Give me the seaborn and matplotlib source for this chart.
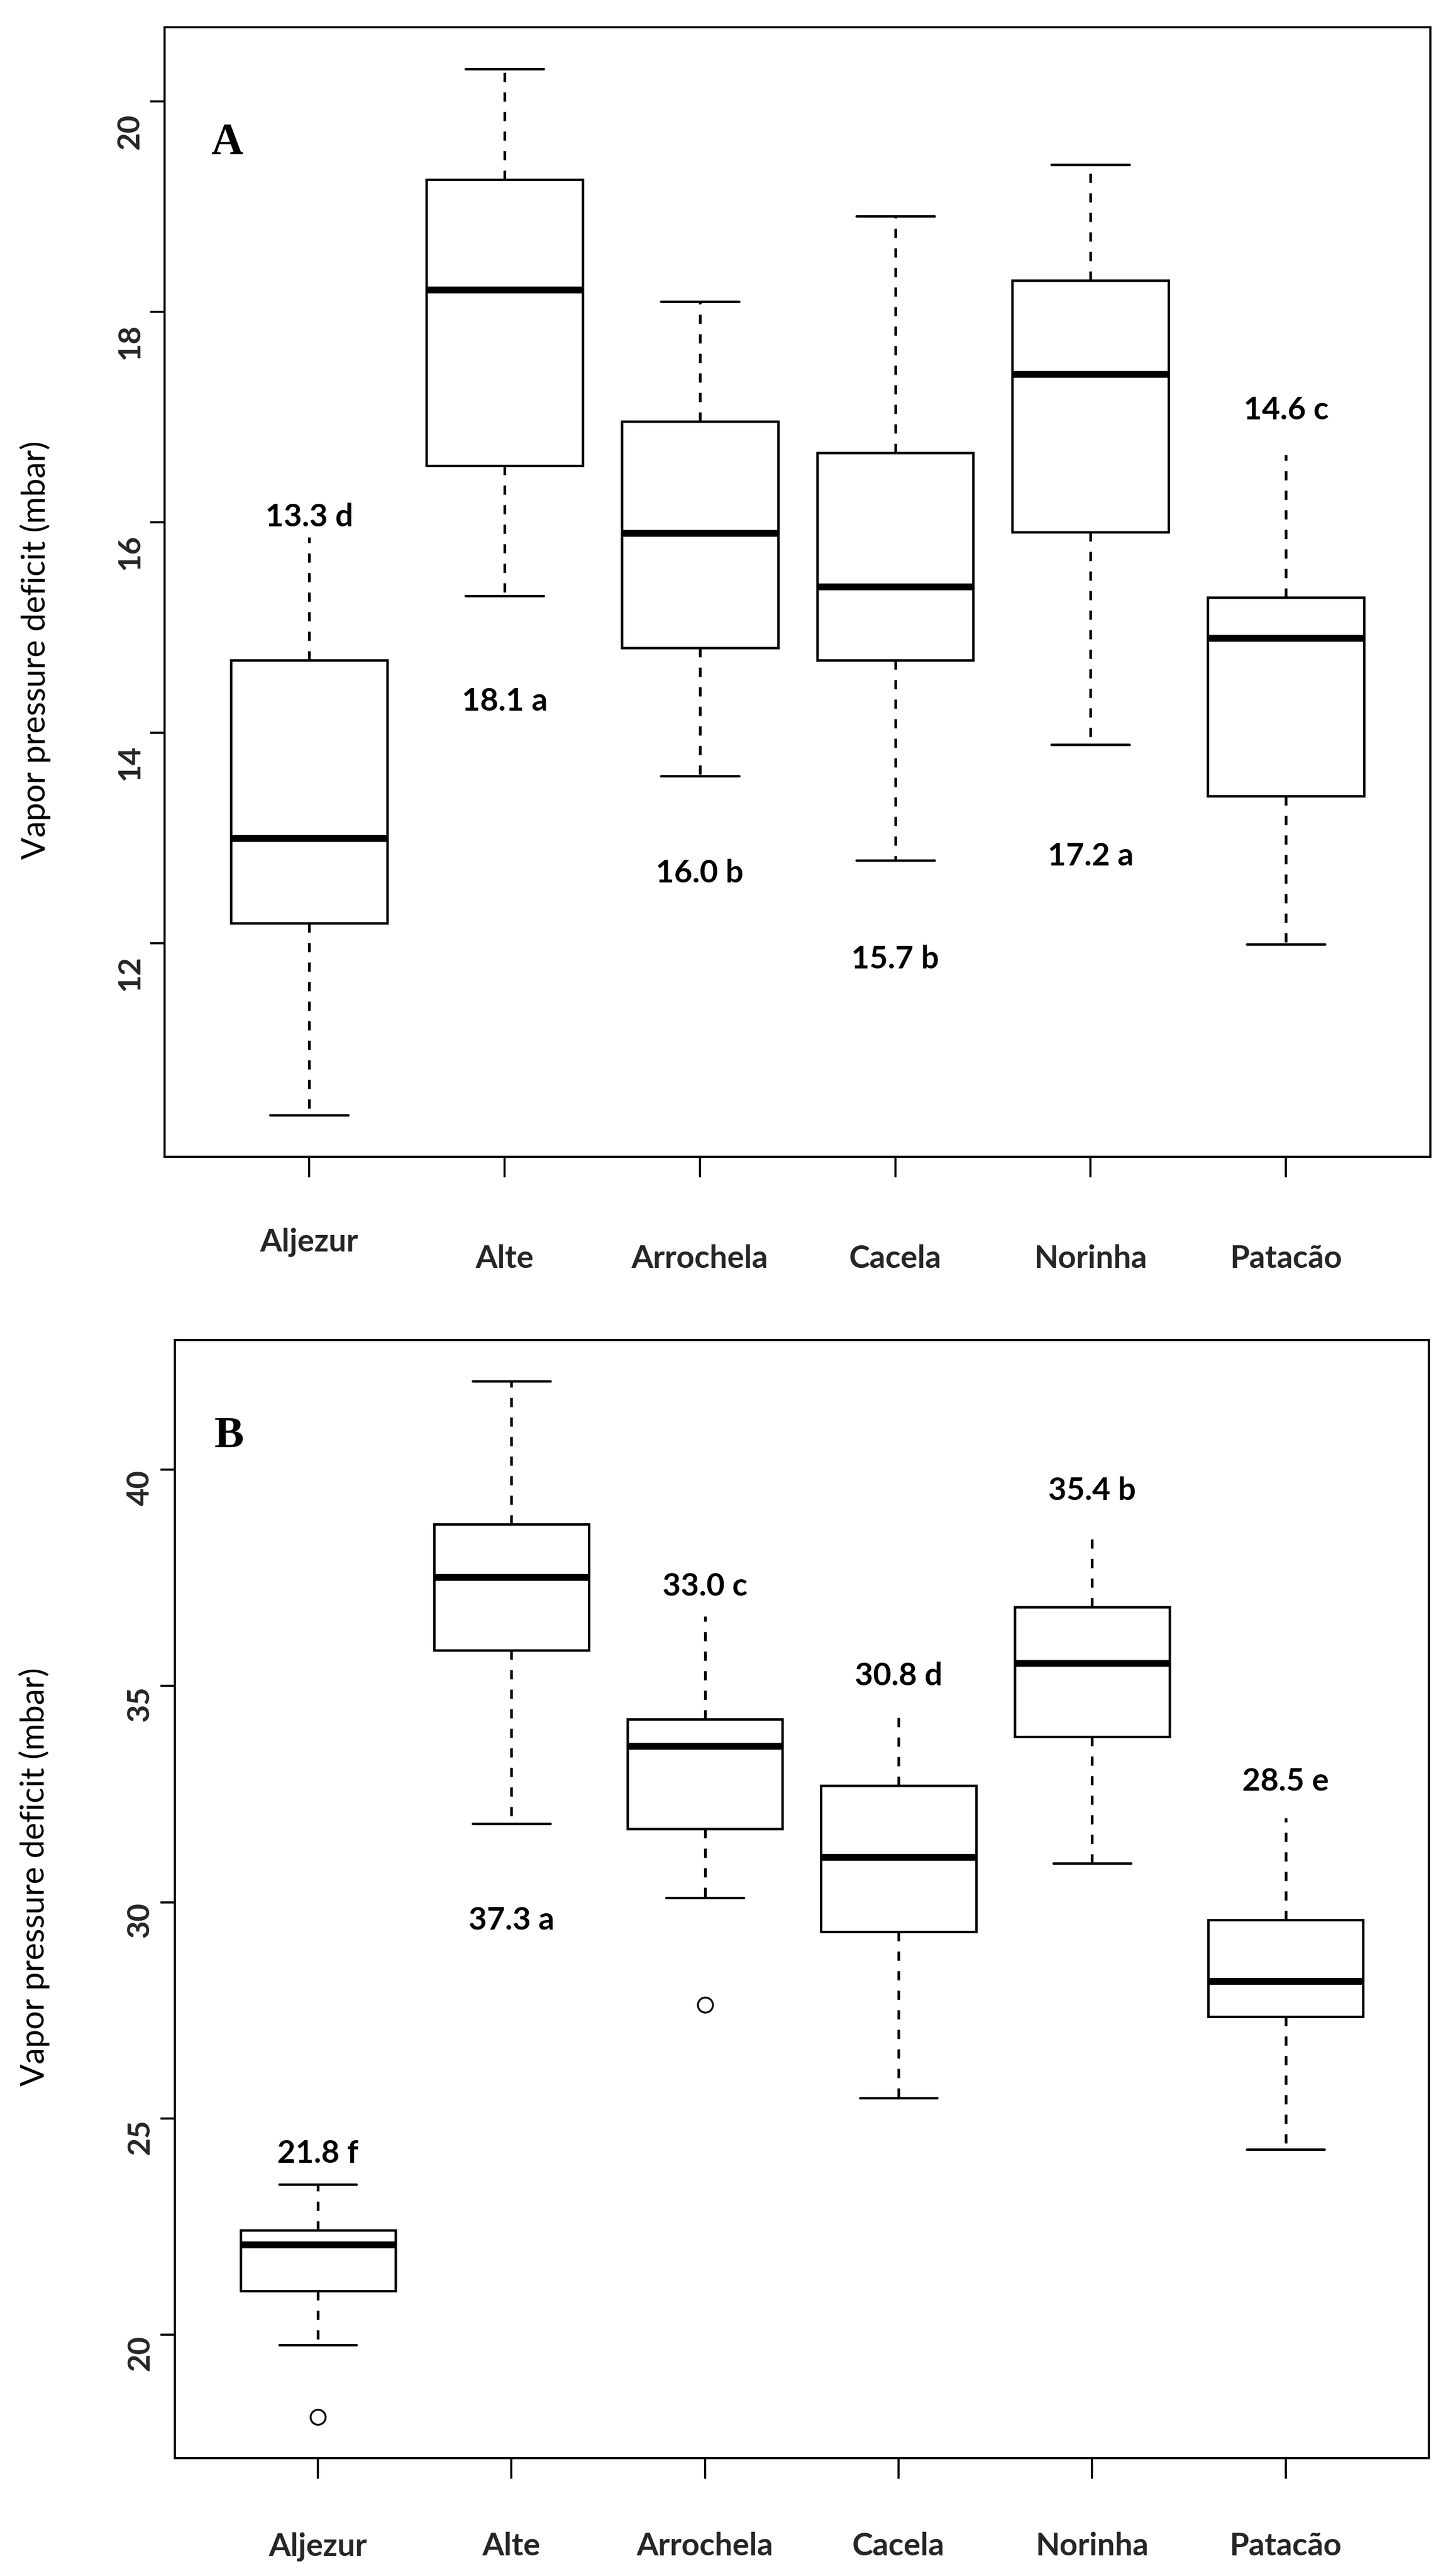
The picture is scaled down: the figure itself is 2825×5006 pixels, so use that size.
import numpy as np
import pandas as pd
import matplotlib
matplotlib.use("Agg")
import matplotlib.pyplot as plt
import matplotlib.transforms as mtransforms
import seaborn as sns

# ---------------- data ----------------
sites = ["Aljezur", "Alte", "Arrochela", "Cacela", "Norinha", "Patacão"]

# Panel A (five-number summaries)
a_low = [10.37, 15.30, 13.59, 12.79, 13.89, 11.99]
a_q1 = [12.19, 16.54, 14.81, 14.69, 15.91, 13.40]
a_med = [13.00, 18.21, 15.90, 15.39, 17.41, 14.90]
a_q3 = [14.69, 19.26, 16.96, 16.66, 18.30, 15.29]
a_high = [15.86, 20.31, 18.10, 18.91, 19.40, 16.64]
a_out = [[], [], [], [], [], []]
a_labels = ["13.3 d", "18.1 a", "16.0 b", "15.7 b", "17.2 a", "14.6 c"]
a_ticks = [12, 14, 16, 18, 20]

# Panel B
b_low = [19.77, 31.82, 30.10, 25.48, 30.90, 24.28]
b_q1 = [21.01, 35.83, 31.70, 29.32, 33.83, 27.35]
b_med = [22.09, 37.51, 33.61, 31.04, 35.53, 28.18]
b_q3 = [22.42, 38.74, 34.23, 32.69, 36.82, 29.59]
b_high = [23.48, 42.04, 36.61, 34.33, 38.61, 31.95]
b_out = [[18.10], [], [27.63], [], [], []]
b_labels = ["21.8 f", "37.3 a", "33.0 c", "30.8 d", "35.4 b", "28.5 e"]
b_ticks = [20, 25, 30, 35, 40]

# ---------------- layout / style ----------------
a_label_y = [15.96, 14.21, 12.58, 11.76, 12.74, 16.98]
b_label_y = [23.98, 29.37, 37.08, 35.02, 39.30, 32.58]
a_hide_upper_cap = [0, 5]
b_hide_upper_cap = [2, 3, 4, 5]

sns.set_theme(style="white")
plt.rcParams["font.family"] = ["Lato", "DejaVu Sans"]

DPI = 100
fig = plt.figure(figsize=(28.25, 50.06), dpi=DPI)
fig.patch.set_facecolor("white")

axA = fig.add_axes([0.1133, 0.55094, 0.8712, 0.43856])
axB = fig.add_axes([0.1202, 0.04565, 0.8632, 0.43418])


def build_frame(low, q1, med, q3, high, out):
    rows = []
    for s, lo, a, m, b, hi, o in zip(sites, low, q1, med, q3, high, out):
        if o:
            vals = list(o) + [lo, a, a, m, b, b, hi, hi]
        else:
            vals = [lo, a, m, b, hi]
        rows += [(s, v) for v in vals]
    return pd.DataFrame(rows, columns=["site", "vpd"])


def panel(ax, low, q1, med, q3, high, out, labels, label_y, ticks, letter,
          letter_xy, hide_caps, ytick_shift_px, xpad, ylabel_xy, first_xlab_shift_px):
    df = build_frame(low, q1, med, q3, high, out)
    sns.boxplot(
        data=df, x="site", y="vpd", order=sites, ax=ax,
        color="white", linecolor="black", linewidth=3.4, width=0.8,
        whis=1.5, fliersize=21, saturation=1,
        medianprops=dict(linewidth=9.6, color="black", solid_capstyle="butt"),
        whiskerprops=dict(linestyle=(0, (3.4, 3.8)), linewidth=3.8, color="black"),
        capprops=dict(linewidth=3.4, color="black"),
        boxprops=dict(linewidth=3.4, edgecolor="black", facecolor="white"),
        flierprops=dict(marker="o", markersize=21, markerfacecolor="none",
                        markeredgecolor="black", markeredgewidth=2.6),
    )
    # hide the upper caps that are not visible in the reference
    caps = None
    for c in ax.containers:
        if hasattr(c, "caps"):
            caps = c.caps
            break
    if caps is not None:
        for i in hide_caps:
            if 2 * i + 1 < len(caps):
                caps[2 * i + 1].set_visible(False)

    allv = list(low) + list(high) + [v for o in out for v in o]
    lo, hi = min(allv), max(allv)
    pad = 0.04 * (hi - lo)
    ax.set_ylim(lo - pad, hi + pad)
    ax.set_xlim(-0.74, 5.74)

    ax.set_yticks(ticks)
    ax.set_yticklabels([str(t) for t in ticks])
    ax.set_xticks(range(len(sites)))
    ax.set_xticklabels(sites)
    ax.tick_params(axis="y", direction="out", length=20, width=3, color="black",
                   pad=9, left=True, labelsize=43)
    ax.tick_params(axis="x", direction="out", length=28.8, width=3, color="black",
                   pad=xpad, bottom=True, labelsize=44)
    off = mtransforms.ScaledTranslation(0, -ytick_shift_px / DPI, fig.dpi_scale_trans)
    for lab in ax.get_yticklabels():
        lab.set_rotation(90)
        lab.set_va("center")
        lab.set_ha("right")
        lab.set_fontweight("bold")
        lab.set_transform(lab.get_transform() + off)
    xl = ax.get_xticklabels()
    for lab in xl:
        lab.set_fontweight("bold")
    if first_xlab_shift_px:
        o2 = mtransforms.ScaledTranslation(0, first_xlab_shift_px / DPI, fig.dpi_scale_trans)
        xl[0].set_transform(xl[0].get_transform() + o2)

    for sp in ax.spines.values():
        sp.set_visible(True)
        sp.set_linewidth(3)
        sp.set_color("black")

    ax.set_xlabel("")
    ax.set_ylabel("Vapor pressure deficit (mbar)", fontsize=46, fontweight="normal",
                  color="black")
    ax.yaxis.set_label_coords(*ylabel_xy)

    for i, (t, y) in enumerate(zip(labels, label_y)):
        ax.text(i, y, t, ha="center", va="baseline", fontsize=44,
                fontweight="bold", color="black")

    ax.text(letter_xy[0], letter_xy[1], letter, ha="center", va="baseline",
            fontsize=62, fontweight="bold", color="black",
            family=["Liberation Serif", "DejaVu Serif"])
    ax.set_facecolor("white")


panel(axA, a_low, a_q1, a_med, a_q3, a_high, a_out, a_labels, a_label_y, a_ticks,
      "A", (-0.4214, 19.507), a_hide_upper_cap, 58, 93.6, (-0.0898, 0.4487), 33)
panel(axB, b_low, b_q1, b_med, b_q3, b_high, b_out, b_labels, b_label_y, b_ticks,
      "B", (-0.4596, 40.51), b_hide_upper_cap, 35, 74.0, (-0.0994, 0.5201), 0)

fig.savefig("out.png", dpi=DPI, facecolor="white")
